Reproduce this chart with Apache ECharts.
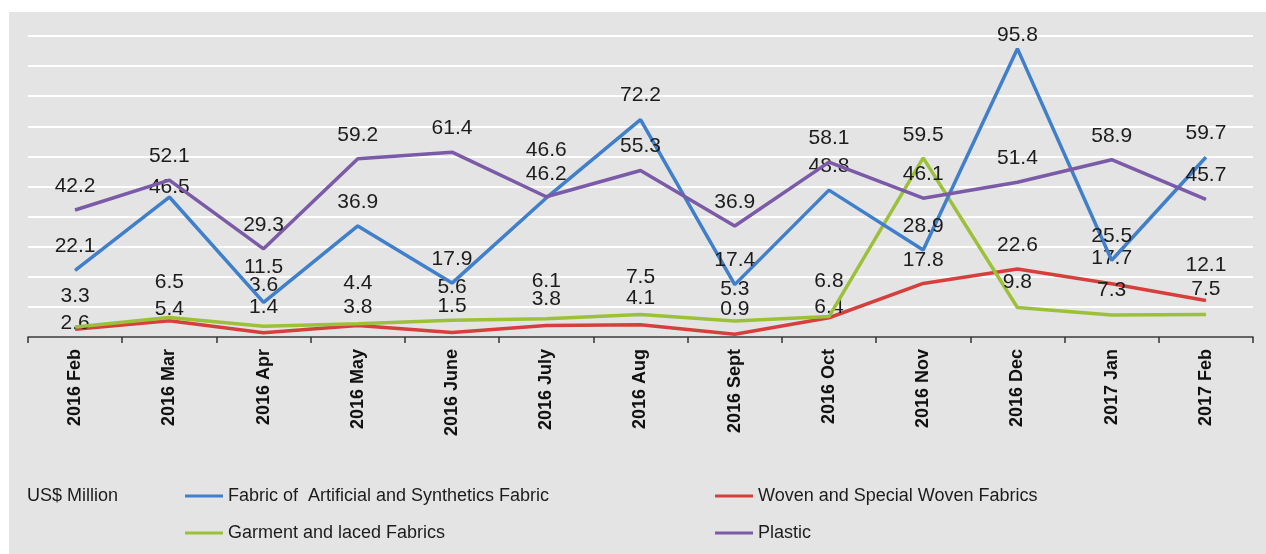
<!DOCTYPE html>
<html>
<head>
<meta charset="utf-8">
<script src="https://cdn.jsdelivr.net/npm/echarts@6/dist/echarts.min.js"></script>
<style>
html,body{margin:0;padding:0;background:#ffffff;}
#chart{width:1266px;height:554px;}
</style>
</head>
<body>
<div id="chart"></div>
<script>
var categories = ['2016 Feb','2016 Mar','2016 Apr','2016 May','2016 June','2016 July','2016 Aug','2016 Sept','2016 Oct','2016 Nov','2016 Dec','2017 Jan','2017 Feb'];
var fabricArtificial = [22.1, 46.5, 11.5, 36.9, 17.9, 46.2, 72.2, 17.4, 48.8, 28.9, 95.8, 25.5, 59.7];
var wovenSpecial = [2.6, 5.4, 1.4, 3.8, 1.5, 3.8, 4.1, 0.9, 6.4, 17.8, 22.6, 17.7, 12.1];
var garmentLaced = [3.3, 6.5, 3.6, 4.4, 5.6, 6.1, 7.5, 5.3, 6.8, 59.5, 9.8, 7.3, 7.5];
var plastic = [42.2, 52.1, 29.3, 59.2, 61.4, 46.6, 55.3, 36.9, 58.1, 46.1, 51.4, 58.9, 45.7];
var seriesNames = ['Fabric of  Artificial and Synthetics Fabric', 'Woven and Special Woven Fabrics', 'Garment and laced Fabrics', 'Plastic'];
var unitLabel = 'US$ Million';

// label placement tweaks (vertical nudges in px, per series, to mimic the original's hand-placed labels)
var labelNudgeFabric  = [0, 14, -11, 0, 0, 0, 0, 0, 0, 0, 11, 0, 0];
var labelNudgeWoven   = [18, 12, -2, 6, -2, -2, -2, -1, 13, 1, 0, -2, -11];
var labelNudgeGarment = [-7, -11, -17, -17, -9, -13, -13, -8, -11, 1, -1, -1, -1];
var labelNudgePlastic = [0, 0, 0, 0, 0, -23, 0, 0, 0, 0, 0, 0, 0];
var labelNudges = [labelNudgeFabric, labelNudgeWoven, labelNudgeGarment, labelNudgePlastic];

var FONT = 'Arial, "Liberation Sans", sans-serif';
var colors = ['#3f7fcc', '#d6403c', '#9cc03a', '#7b5aa8'];
var chart = echarts.init(document.getElementById('chart'), null, {renderer: 'canvas'});

function mkSeries(name, data, color, z) {
  return {
    name: name,
    type: 'line',
    data: data,
    symbol: 'circle',
    symbolSize: 1,
    showSymbol: true,
    z: z,
    lineStyle: {color: color, width: 3.5},
    itemStyle: {color: color},
    label: {
      show: true,
      position: 'top',
      distance: 13,
      fontFamily: FONT,
      fontSize: 21,
      color: '#1c1c1c'
    },
    labelLayout: function (p) {
      var arr = labelNudges[p.seriesIndex];
      return {dy: arr ? (arr[p.dataIndex] || 0) : 0};
    },
    emphasis: {disabled: true}
  };
}

function mkLegend(name, left, top) {
  return {
    data: [name],
    left: left,
    top: top,
    icon: 'rect',
    itemWidth: 38,
    itemHeight: 3,
    textStyle: {fontFamily: FONT, fontSize: 18, color: '#1c1c1c'},
    selectedMode: false
  };
}

chart.setOption({
  animation: false,
  backgroundColor: '#ffffff',
  color: colors,
  graphic: [
    {type: 'rect', shape: {x: 9, y: 12, width: 1266, height: 560}, style: {fill: '#e4e4e4'}, z: -10, silent: true},
    {type: 'text', left: 27, top: 487, style: {text: unitLabel, fontFamily: FONT, fontSize: 18, fill: '#1c1c1c'}}
  ],
  grid: {left: 28, right: 13, top: 36, bottom: 217, containLabel: false},
  legend: [
    mkLegend(seriesNames[0], 180, 482),
    mkLegend(seriesNames[1], 710, 482),
    mkLegend(seriesNames[2], 180, 519),
    mkLegend(seriesNames[3], 710, 519)
  ],
  xAxis: {
    type: 'category',
    data: categories,
    boundaryGap: true,
    axisLine: {show: true, onZero: true, lineStyle: {color: '#333333', width: 1.5}},
    axisTick: {show: true, alignWithLabel: false, length: 6, lineStyle: {color: '#333333', width: 1.5}},
    axisLabel: {
      rotate: 90,
      margin: 12,
      fontFamily: FONT,
      fontSize: 18,
      fontWeight: 'bold',
      color: '#111111',
      interval: 0
    }
  },
  yAxis: {
    type: 'value',
    min: 0,
    max: 100,
    interval: 10,
    axisLabel: {show: false},
    axisLine: {show: false},
    axisTick: {show: false},
    splitLine: {show: true, lineStyle: {color: '#ffffff', width: 2}}
  },
  series: [
    mkSeries(seriesNames[0], fabricArtificial, colors[0], 4),
    mkSeries(seriesNames[1], wovenSpecial, colors[1], 2),
    mkSeries(seriesNames[2], garmentLaced, colors[2], 3),
    mkSeries(seriesNames[3], plastic, colors[3], 5)
  ]
});
</script>
</body>
</html>
